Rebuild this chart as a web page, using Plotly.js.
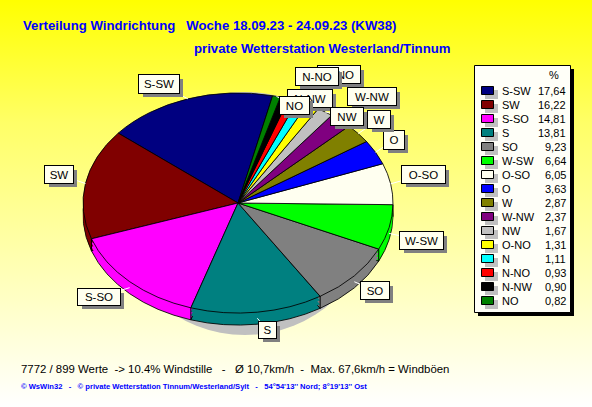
<!DOCTYPE html>
<html><head><meta charset="utf-8">
<script src="https://cdn.plot.ly/plotly-3.0.1.min.js"></script>
<style>
html,body{margin:0;padding:0;width:592px;height:407px;overflow:hidden;background:linear-gradient(to bottom,#ffff00 0%,#ffff66 30%,#ffffff 100%);}
#chart{width:592px;height:407px;}
</style></head><body><div id="chart"></div>
<script>
const directions = ["S-SW","SW","S-SO","S","SO","W-SW","O-SO","O","W","W-NW","NW","O-NO","N","N-NO","N-NW","NO"];
const percents = [17.64,16.22,14.81,13.81,9.23,6.64,6.05,3.63,2.87,2.37,1.67,1.31,1.11,0.93,0.90,0.82];
const percentLabels = ["17,64","16,22","14,81","13,81","9,23","6,64","6,05","3,63","2,87","2,37","1,67","1,31","1,11","0,93","0,90","0,82"];
const colors = ["#000080","#800000","#ff00ff","#008080","#808080","#00ff00","#fffff0","#0000ff","#808000","#800080","#c0c0c0","#ffff00","#00ffff","#ff0000","#000000","#008000"];
const titleLine1 = "Verteilung Windrichtung\u00a0\u00a0\u00a0Woche 18.09.23 - 24.09.23 (KW38)";
const titleLine2 = "private Wetterstation Westerland/Tinnum";
const footerLine = "7772 / 899 Werte\u00a0\u00a0-> 10.4% Windstille\u00a0\u00a0\u00a0-\u00a0\u00a0\u00a0Ø 10,7km/h\u00a0\u00a0-\u00a0\u00a0Max. 67,6km/h = Windböen";
const creditLine = "© WsWin32\u00a0\u00a0\u00a0-\u00a0\u00a0\u00a0© private Wetterstation Tinnum/Westerland/Sylt\u00a0\u00a0\u00a0-\u00a0\u00a0\u00a054°54'13'' Nord; 8°19'13'' Ost";
// callout boxes [name, left, top, right, bottom], drawn back to front
const callouts = [
 ["S-SW",138,74,180,94],["SW",44,165,74,184],["S-SO",77,288,121,306],["S",258,321,277,339],
 ["SO",360,281,390,300],["W-SW",399,231,444,250],["O-SO",401,165,446,184],["O",383,130,405,150],
 ["W-NW",347,87,397,106],["W",367,110,391,129],["N-NW",287,89,333,108],["O-NO",317,65,361,84],["N-NO",295,67,339,86],
 ["NW",330,107,364,126],["NO",279,96,310,115]];

const W=592,H=407,cx=238,cy=203,rx=155,squash=0.71,depth=12,startAngle=12.9;
const px=x=>x/W, py=y=>1-y/H;
const total=percents.reduce((a,b)=>a+b,0);
const FONT="Liberation Sans, Arial, sans-serif";
// Plotly's counterclockwise pies place the far edge of the first slice at `rotation`
const rotation=startAngle-percents[0]/total*360;

const offsets=[depth,depth*2/3,depth/3,0];
const traces=offsets.map((o,i)=>({type:"pie",values:percents,labels:directions,sort:false,direction:"counterclockwise",rotation:rotation,
  textinfo:"none",hoverinfo:"skip",showlegend:false,
  marker:{colors:colors,line:{color:"#000",width:(i===0||i===offsets.length-1)?1:0}},
  domain:{x:[px(cx-rx),px(cx+rx)],y:[py(cy+rx),py(cy-rx)]}}));

const shapes=[], annotations=[];
// pie drop shadow
shapes.push({type:"circle",layer:"below",xref:"paper",yref:"paper",x0:px(118),x1:px(372),y0:py(92),y1:py(335),fillcolor:"#c0c0c0",line:{width:0}});

// edge lines on the rim and white leader lines, from the slice angles
function edgePoint(a,extra){return [cx+(rx+extra)*Math.sin(a),cy-(rx+extra)*squash*Math.cos(a)];}
let acc=0;
directions.forEach((d,i)=>{
  const a0=(startAngle-acc/total*360)*Math.PI/180;
  const a1=(startAngle-(acc+percents[i])/total*360)*Math.PI/180;
  acc+=percents[i];
  if(Math.cos(a0)<0.05){const p=edgePoint(a0,0);
    shapes.push({type:"line",layer:"above",xref:"paper",yref:"paper",x0:px(p[0]),x1:px(p[0]),y0:py(p[1]),y1:py(p[1]+depth),line:{color:"#000",width:1}});}
  const c=callouts.find(k=>k[0]===d);
  if(c){const m=(a0+a1)/2,p=edgePoint(m,0);
    shapes.push({type:"line",layer:"above",xref:"paper",yref:"paper",x0:px(p[0]),y0:py(p[1]+(Math.cos(m)<0?depth*0.5:0)),x1:px((c[1]+c[3])/2),y1:py((c[2]+c[4])/2),line:{color:"#ffffff",width:1}});}
});

// callouts
function box(x0,y0,x1,y1,text,bg,border,size){
  annotations.push({xref:"paper",yref:"paper",xanchor:"center",yanchor:"middle",x:px((x0+x1)/2),y:py((y0+y1)/2),
    width:x1-x0-2,height:y1-y0-2,borderpad:0,borderwidth:border?1:0,bordercolor:"#000",bgcolor:bg,showarrow:false,
    text:text,align:"center",valign:"middle",font:{family:FONT,size:size||12,color:"#000"}});
}
callouts.forEach(c=>{
  box(c[1]+4,c[2]+4,c[3]+4,c[4]+4," ","#808080",false);
  box(c[1],c[2],c[3],c[4],c[0],"#fffff0",true,11.5);
});

// legend panel
shapes.push({type:"rect",layer:"above",xref:"paper",yref:"paper",x0:px(478),x1:px(574),y0:py(69),y1:py(316),fillcolor:"#000",line:{width:0}});
shapes.push({type:"rect",layer:"above",xref:"paper",yref:"paper",x0:px(474.5),x1:px(570.5),y0:py(65.5),y1:py(312.5),fillcolor:"#fffff8",line:{color:"#000",width:1}});
function text(x,y,t,anchor,size,color,bold){
  annotations.push({xref:"paper",yref:"paper",x:px(x),y:py(y),xanchor:anchor,yanchor:"middle",showarrow:false,borderpad:0,
    text:bold?"<b>"+t+"</b>":t,font:{family:FONT,size:size,color:color}});
}
text(548,75,"%","left",11,"#000");
directions.forEach((d,i)=>{
  const y=91+i*14;
  shapes.push({type:"rect",layer:"above",xref:"paper",yref:"paper",x0:px(485),x1:px(498),y0:py(y-1),y1:py(y+8),fillcolor:"#c0c0c0",line:{width:0}});
  shapes.push({type:"rect",layer:"above",xref:"paper",yref:"paper",x0:px(481.5),x1:px(493.5),y0:py(y-4.5),y1:py(y+3.5),fillcolor:colors[i],line:{color:"#000",width:1}});
  text(501,y,d,"left",11,"#000");
  text(566.5,y,percentLabels[i],"right",11,"#000");
});

// titles and footers
text(22,25,titleLine1,"left",13.2,"#0000ff",true);
text(193,49,titleLine2,"left",13.2,"#0000ff",true);
text(20,369,footerLine,"left",11.4,"#000");
text(20,386,creditLine,"left",7.6,"#0000ff",true);

Plotly.newPlot("chart",traces,{width:W,height:H,margin:{l:0,r:0,t:0,b:0},paper_bgcolor:"rgba(0,0,0,0)",plot_bgcolor:"rgba(0,0,0,0)",showlegend:false,shapes:shapes,annotations:annotations},{staticPlot:true,displayModeBar:false}).then(gd=>{
  // tilt the pies into the reference's elliptical perspective, stacked to form the rim
  gd.querySelectorAll(".pielayer .trace").forEach((g,i)=>{
    g.setAttribute("transform","translate(0,"+(cy+offsets[i])+") scale(1,"+squash+") translate(0,"+(-cy)+")");
  });
});
</script></body></html>
